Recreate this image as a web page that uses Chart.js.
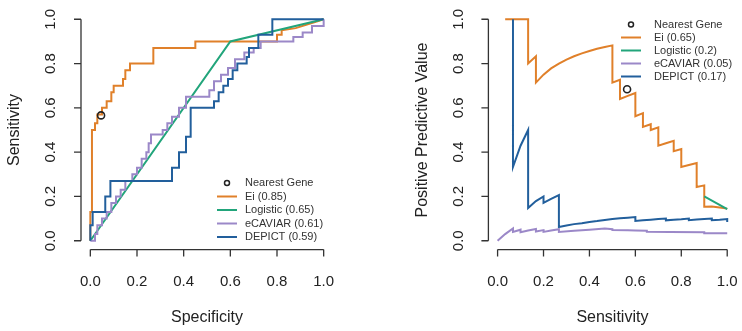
<!DOCTYPE html>
<html>
<head>
<meta charset="utf-8">
<script src="https://cdn.jsdelivr.net/npm/chart.js@4.4.1/dist/chart.umd.min.js"></script>
<style>
  html, body { margin: 0; padding: 0; background: #fff; }
  #wrap { position: relative; width: 742px; height: 331px; }
  .panel { position: absolute; top: 0; width: 371px; height: 331px; }
</style>
</head>
<body>
<div id="wrap">
  <div class="panel" style="left:0"><canvas id="roc" width="371" height="331"></canvas></div>
  <div class="panel" style="left:371px"><canvas id="ppv" width="371" height="331"></canvas></div>
</div>
<script>
// tick positions shared by both panels
const tickValues = [0, 0.2, 0.4, 0.6, 0.8, 1.0];
const tickLabels = ['0.0', '0.2', '0.4', '0.6', '0.8', '1.0'];

// left panel: ROC curves, [specificity axis, sensitivity]
const rocLabels = ['Nearest Gene', 'Ei (0.85)', 'Logistic (0.65)', 'eCAVIAR (0.61)', 'DEPICT (0.59)'];
const rocNearest = [[0.046, 0.566]];
const rocEi = [[0, 0], [0, 0.13], [0.007, 0.13], [0.007, 0.5], [0.02, 0.5], [0.02, 0.53], [0.03, 0.53], [0.03, 0.57],
  [0.05, 0.57], [0.05, 0.6], [0.07, 0.6], [0.07, 0.63], [0.09, 0.63], [0.09, 0.67], [0.1, 0.67], [0.1, 0.7],
  [0.14, 0.7], [0.14, 0.73], [0.15, 0.73], [0.15, 0.77], [0.17, 0.77], [0.17, 0.8], [0.27, 0.8], [0.27, 0.87],
  [0.45, 0.87], [0.45, 0.9], [0.8, 0.9], [0.8, 0.93], [0.82, 0.93], [0.82, 0.95], [0.88, 0.96], [0.97, 0.99], [1, 1]];
const rocLogistic = [[0, 0], [0.6, 0.9], [1, 1]];
const rocEcaviar = [[0, 0], [0.02, 0], [0.02, 0.03], [0.03, 0.03], [0.03, 0.07], [0.05, 0.07], [0.05, 0.1], [0.07, 0.1],
  [0.07, 0.13], [0.09, 0.13], [0.09, 0.17], [0.11, 0.17], [0.11, 0.2], [0.13, 0.2], [0.13, 0.23], [0.15, 0.23],
  [0.15, 0.27], [0.18, 0.27], [0.18, 0.3], [0.2, 0.3], [0.2, 0.33], [0.22, 0.33], [0.22, 0.37], [0.24, 0.37],
  [0.24, 0.4], [0.25, 0.4], [0.25, 0.44], [0.26, 0.44], [0.26, 0.48], [0.31, 0.48], [0.31, 0.5], [0.33, 0.5],
  [0.33, 0.53], [0.35, 0.53], [0.35, 0.56], [0.38, 0.56], [0.38, 0.6], [0.41, 0.6], [0.41, 0.65], [0.51, 0.65],
  [0.51, 0.68], [0.53, 0.68], [0.53, 0.72], [0.56, 0.72], [0.56, 0.75], [0.59, 0.75], [0.59, 0.78], [0.62, 0.78],
  [0.62, 0.82], [0.66, 0.82], [0.66, 0.85], [0.7, 0.85], [0.7, 0.87], [0.73, 0.87], [0.73, 0.9], [0.87, 0.9],
  [0.87, 0.92], [0.91, 0.92], [0.91, 0.94], [0.95, 0.94], [0.95, 0.97], [1, 0.97], [1, 1]];
const rocDepict = [[0, 0], [0, 0.07], [0.01, 0.07], [0.01, 0.13], [0.064, 0.13], [0.064, 0.2], [0.086, 0.2], [0.086, 0.27],
  [0.35, 0.27], [0.35, 0.33], [0.38, 0.33], [0.38, 0.4], [0.41, 0.4], [0.41, 0.47], [0.43, 0.47], [0.43, 0.6],
  [0.53, 0.6], [0.53, 0.63], [0.55, 0.63], [0.55, 0.67], [0.57, 0.67], [0.57, 0.7], [0.59, 0.7], [0.59, 0.73],
  [0.61, 0.73], [0.61, 0.77], [0.63, 0.77], [0.63, 0.8], [0.67, 0.8], [0.67, 0.83], [0.68, 0.83], [0.68, 0.87],
  [0.72, 0.87], [0.72, 0.93], [0.78, 0.93], [0.78, 1], [1, 1]];

// right panel: precision vs sensitivity, [sensitivity, PPV]
const ppvLabels = ['Nearest Gene', 'Ei (0.65)', 'Logistic (0.2)', 'eCAVIAR (0.05)', 'DEPICT (0.17)'];
const ppvNearest = [[0.564, 0.684]];
const ppvEi = [[0.033, 1], [0.067, 1], [0.1, 1], [0.133, 1], [0.133, 0.8], [0.167, 0.833], [0.167, 0.714], [0.2, 0.75],
  [0.233, 0.778], [0.267, 0.8], [0.3, 0.818], [0.333, 0.833], [0.367, 0.846], [0.4, 0.857], [0.433, 0.867],
  [0.467, 0.875], [0.5, 0.882], [0.5, 0.714], [0.533, 0.727], [0.533, 0.64], [0.567, 0.654], [0.6, 0.667],
  [0.6, 0.5625], [0.633, 0.576], [0.633, 0.514], [0.667, 0.526], [0.667, 0.5], [0.7, 0.512], [0.7, 0.429],
  [0.733, 0.44], [0.767, 0.451], [0.767, 0.404], [0.8, 0.414], [0.8, 0.333], [0.833, 0.342], [0.867, 0.351],
  [0.867, 0.243], [0.9, 0.25], [0.9, 0.154], [0.933, 0.155], [0.967, 0.15], [1, 0.145]];
const ppvLogistic = [[0.9, 0.2], [1, 0.143]];
const ppvEcaviar = [[0, 0], [0.033, 0.03], [0.067, 0.055], [0.067, 0.04], [0.1, 0.05], [0.1, 0.038], [0.133, 0.046],
  [0.167, 0.053], [0.167, 0.042], [0.2, 0.048], [0.2, 0.04], [0.233, 0.046], [0.267, 0.052], [0.267, 0.04],
  [0.333, 0.045], [0.4, 0.05], [0.467, 0.055], [0.5, 0.052], [0.5, 0.048], [0.567, 0.047], [0.6, 0.046],
  [0.65, 0.045], [0.65, 0.041], [0.75, 0.04], [0.9, 0.038], [0.9, 0.034], [1, 0.034]];
const ppvDepict = [[0.067, 1], [0.067, 0.333], [0.1, 0.429], [0.133, 0.5], [0.133, 0.148], [0.167, 0.179], [0.2, 0.2],
  [0.2, 0.171], [0.233, 0.189], [0.267, 0.206], [0.267, 0.062], [0.3, 0.069], [0.333, 0.075], [0.367, 0.079],
  [0.4, 0.085], [0.433, 0.089], [0.467, 0.094], [0.5, 0.098], [0.533, 0.101], [0.567, 0.104], [0.6, 0.107],
  [0.6, 0.089], [0.633, 0.092], [0.667, 0.095], [0.7, 0.098], [0.733, 0.1], [0.733, 0.092], [0.767, 0.095],
  [0.8, 0.097], [0.833, 0.1], [0.833, 0.093], [0.867, 0.096], [0.9, 0.098], [0.933, 0.1], [0.933, 0.093],
  [0.967, 0.095], [1, 0.098], [1, 0.085]];

const colors = ['#222222', '#E0802A', '#22A57B', '#9B88C8', '#225F9C'];
const FONT = '"Liberation Sans", Arial, sans-serif';

const toXY = arr => arr.map(p => ({ x: p[0], y: p[1] }));

// R style axes: line only over 0..1, outward ticks, rotated y labels, plus legend
const rStyle = {
    id: 'rStyle',
    afterDraw(chart, args, opts) {
        const ctx = chart.ctx;
        const xs = chart.scales.x;
        const ys = chart.scales.y;
        const area = chart.chartArea;
        const first = tickValues[0], last = tickValues[tickValues.length - 1];

        ctx.save();
        ctx.strokeStyle = '#333';
        ctx.lineWidth = 1.3;
        ctx.beginPath();
        ctx.moveTo(xs.getPixelForValue(first), area.bottom);
        ctx.lineTo(xs.getPixelForValue(last), area.bottom);
        ctx.moveTo(area.left, ys.getPixelForValue(first));
        ctx.lineTo(area.left, ys.getPixelForValue(last));
        tickValues.forEach(v => {
            const px = xs.getPixelForValue(v);
            ctx.moveTo(px, area.bottom);
            ctx.lineTo(px, area.bottom + 7);
            const py = ys.getPixelForValue(v);
            ctx.moveTo(area.left, py);
            ctx.lineTo(area.left - 7, py);
        });
        ctx.stroke();

        ctx.fillStyle = '#222';
        ctx.textAlign = 'center';
        ctx.textBaseline = 'middle';
        ctx.font = '15px ' + FONT;
        tickValues.forEach((v, i) => {
            ctx.fillText(tickLabels[i], xs.getPixelForValue(v), area.bottom + 32);
            ctx.save();
            ctx.translate(area.left - 30, ys.getPixelForValue(v));
            ctx.rotate(-Math.PI / 2);
            ctx.fillText(tickLabels[i], 0, 0);
            ctx.restore();
        });

        // axis titles
        ctx.font = '16px ' + FONT;
        ctx.fillText(opts.xTitle, (xs.getPixelForValue(first) + xs.getPixelForValue(last)) / 2, area.bottom + 68);
        ctx.save();
        ctx.translate(area.left - 66, (ys.getPixelForValue(first) + ys.getPixelForValue(last)) / 2);
        ctx.rotate(-Math.PI / 2);
        ctx.fillText(opts.yTitle, 0, 0);
        ctx.restore();

        // legend
        const lg = opts.legend;
        ctx.font = '11px ' + FONT;
        ctx.textAlign = 'left';
        chart.data.datasets.forEach((ds, i) => {
            const y = lg.y + i * lg.dy;
            if (ds.showLine) {
                ctx.strokeStyle = ds.borderColor;
                ctx.lineWidth = 2;
                ctx.beginPath();
                ctx.moveTo(lg.x0, y);
                ctx.lineTo(lg.x1, y);
                ctx.stroke();
            } else {
                ctx.strokeStyle = ds.pointBorderColor;
                ctx.lineWidth = 1.5;
                ctx.beginPath();
                ctx.arc((lg.x0 + lg.x1) / 2, y, 2.5, 0, Math.PI * 2);
                ctx.stroke();
            }
            ctx.fillStyle = '#333';
            ctx.fillText(ds.label, lg.text, y);
        });
        ctx.restore();
    }
};

function buildDatasets(labels, series) {
    return series.map((s, i) => {
        if (i === 0) {
            return {
                label: labels[i], data: toXY(s), showLine: false, order: 0,
                pointRadius: 3.5, pointBorderWidth: 1.6,
                pointBorderColor: colors[0], pointBackgroundColor: 'rgba(0,0,0,0)'
            };
        }
        return {
            label: labels[i], data: toXY(s), showLine: true, order: 5 - i,
            borderColor: colors[i], borderWidth: 2, pointRadius: 0, tension: 0
        };
    });
}

function makeChart(id, labels, series, padding, xTitle, yTitle, legend) {
    const axis = { type: 'linear', min: -0.04, max: 1.04, display: false };
    return new Chart(document.getElementById(id), {
        type: 'scatter',
        data: { datasets: buildDatasets(labels, series) },
        options: {
            responsive: false,
            animation: false,
            devicePixelRatio: 1,
            events: [],
            layout: { padding: padding },
            scales: { x: axis, y: { ...axis } },
            plugins: {
                legend: { display: false },
                tooltip: { enabled: false },
                rStyle: { xTitle: xTitle, yTitle: yTitle, legend: legend }
            }
        },
        plugins: [rStyle]
    });
}

makeChart('roc', rocLabels, [rocNearest, rocEi, rocLogistic, rocEcaviar, rocDepict],
    { left: 81, right: 38, top: 10.4, bottom: 81.4 }, 'Specificity', 'Sensitivity',
    { x0: 217, x1: 237, text: 245, y: 183, dy: 13.5 });

makeChart('ppv', ppvLabels, [ppvNearest, ppvEi, ppvLogistic, ppvEcaviar, ppvDepict],
    { left: 117.4, right: 1.7, top: 10.4, bottom: 81.4 }, 'Sensitivity', 'Positive Predictive Value',
    { x0: 250, x1: 270, text: 283, y: 24.5, dy: 13 });
</script>
</body>
</html>
